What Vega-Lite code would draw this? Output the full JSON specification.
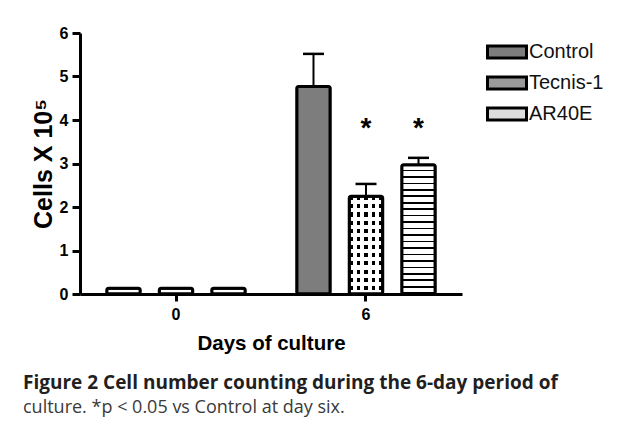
{
  "$schema": "https://vega.github.io/schema/vega-lite/v6.json",
  "autosize": {"type": "none"},
  "padding": {"left": 80, "top": 33, "right": 162, "bottom": 131},
  "width": 382,
  "height": 261,
  "background": "white",
  "title": {
    "text": "Figure 2 Cell number counting during the 6-day period of",
    "subtitle": "culture. *p < 0.05 vs Control at day six.",
    "orient": "bottom",
    "anchor": "start",
    "frame": "group",
    "dx": -57,
    "offset": 20,
    "font": "Open Sans",
    "fontSize": 19,
    "fontWeight": "bold",
    "color": "#231f20",
    "subtitleFont": "Open Sans",
    "subtitleFontSize": 18,
    "subtitleFontWeight": "normal",
    "subtitleColor": "#3a3a3a",
    "subtitlePadding": 6
  },
  "data": {
    "values": [
      {"day": "0", "group": "Control", "value": 0.13, "upper": null, "star": null},
      {"day": "0", "group": "Tecnis-1", "value": 0.13, "upper": null, "star": null},
      {"day": "0", "group": "AR40E", "value": 0.13, "upper": null, "star": null},
      {"day": "6", "group": "Control", "value": 4.77, "upper": 5.52, "star": null},
      {"day": "6", "group": "Tecnis-1", "value": 2.25, "upper": 2.53, "star": "*"},
      {"day": "6", "group": "AR40E", "value": 2.97, "upper": 3.13, "star": "*"}
    ]
  },
  "encoding": {
    "x": {
      "field": "day", "type": "nominal",
      "scale": {"paddingInner": 0.271, "paddingOuter": 0.1408},
      "axis": {"title": "Days of culture", "labelAngle": 0, "tickSize": 7, "labelPadding": 5, "titlePadding": 11, "titleFontSize": 20.5}
    },
    "xOffset": {
      "field": "group", "type": "nominal",
      "sort": ["Control", "Tecnis-1", "AR40E"],
      "scale": {"paddingInner": 0.362, "paddingOuter": 0}
    }
  },
  "layer": [
    {
      "mark": {"type": "bar", "cornerRadius": 2},
      "encoding": {
        "y": {
          "field": "value", "type": "quantitative",
          "scale": {"domain": [0, 6], "nice": false, "zero": true},
          "axis": {"title": "Cells X 10\u2075", "titleFontSize": 25, "values": [0, 1, 2, 3, 4, 5, 6], "tickSize": 8, "labelPadding": 4, "titlePadding": 3}
        },
        "fill": {
          "field": "group", "type": "nominal",
          "sort": ["Control", "Tecnis-1", "AR40E"],
          "scale": {"domain": ["Control", "Tecnis-1", "AR40E"], "range": ["#7d7d7d", "#9a9a9a", "#dddddd"]},
          "condition": {"test": "datum.day == '0'", "value": "white"},
          "legend": {
            "title": null,
            "encode": {
              "symbols": {
                "update": {
                  "fill": {"signal": "datum.value == 'Tecnis-1' ? {gradient: 'linear', x1: 0, y1: 0, x2: 1, y2: 0, stops: [{offset: 0, color: 'white'}, {offset: 0.125, color: 'white'}, {offset: 0.125, color: 'black'}, {offset: 0.25, color: 'black'}, {offset: 0.25, color: 'white'}, {offset: 0.375, color: 'white'}, {offset: 0.375, color: 'black'}, {offset: 0.5, color: 'black'}, {offset: 0.5, color: 'white'}, {offset: 0.625, color: 'white'}, {offset: 0.625, color: 'black'}, {offset: 0.75, color: 'black'}, {offset: 0.75, color: 'white'}, {offset: 0.875, color: 'white'}, {offset: 0.875, color: 'black'}, {offset: 1, color: 'black'}]} : datum.value == 'AR40E' ? {gradient: 'linear', x1: 0, y1: 0, x2: 0, y2: 1, stops: [{offset: 0, color: 'white'}, {offset: 0.2, color: 'white'}, {offset: 0.2, color: 'black'}, {offset: 0.4, color: 'black'}, {offset: 0.4, color: 'white'}, {offset: 0.6, color: 'white'}, {offset: 0.6, color: 'black'}, {offset: 0.8, color: 'black'}, {offset: 0.8, color: 'white'}, {offset: 1, color: 'white'}]} : '#7d7d7d'"},
                  "stroke": {"value": "black"},
                  "strokeWidth": {"value": 3},
                  "opacity": {"value": 1}
                }
              }
            }
          }
        }
      }
    },
    {
      "transform": [{"filter": "datum.group == 'Tecnis-1' && datum.day == '6'"}],
      "mark": {"type": "bar", "cornerRadius": 2, "fill": {"gradient": "linear", "x1": 0, "y1": 0, "x2": 0, "y2": 1, "stops": [
        {"offset": 0, "color": "black"}, {"offset": 0.0417, "color": "black"}, {"offset": 0.0417, "color": "white"}, {"offset": 0.0833, "color": "white"},
        {"offset": 0.0833, "color": "black"}, {"offset": 0.125, "color": "black"}, {"offset": 0.125, "color": "white"}, {"offset": 0.1667, "color": "white"},
        {"offset": 0.1667, "color": "black"}, {"offset": 0.2083, "color": "black"}, {"offset": 0.2083, "color": "white"}, {"offset": 0.25, "color": "white"},
        {"offset": 0.25, "color": "black"}, {"offset": 0.2917, "color": "black"}, {"offset": 0.2917, "color": "white"}, {"offset": 0.3333, "color": "white"},
        {"offset": 0.3333, "color": "black"}, {"offset": 0.375, "color": "black"}, {"offset": 0.375, "color": "white"}, {"offset": 0.4167, "color": "white"},
        {"offset": 0.4167, "color": "black"}, {"offset": 0.4583, "color": "black"}, {"offset": 0.4583, "color": "white"}, {"offset": 0.5, "color": "white"},
        {"offset": 0.5, "color": "black"}, {"offset": 0.5417, "color": "black"}, {"offset": 0.5417, "color": "white"}, {"offset": 0.5833, "color": "white"},
        {"offset": 0.5833, "color": "black"}, {"offset": 0.625, "color": "black"}, {"offset": 0.625, "color": "white"}, {"offset": 0.6667, "color": "white"},
        {"offset": 0.6667, "color": "black"}, {"offset": 0.7083, "color": "black"}, {"offset": 0.7083, "color": "white"}, {"offset": 0.75, "color": "white"},
        {"offset": 0.75, "color": "black"}, {"offset": 0.7917, "color": "black"}, {"offset": 0.7917, "color": "white"}, {"offset": 0.8333, "color": "white"},
        {"offset": 0.8333, "color": "black"}, {"offset": 0.875, "color": "black"}, {"offset": 0.875, "color": "white"}, {"offset": 0.9167, "color": "white"},
        {"offset": 0.9167, "color": "black"}, {"offset": 0.9583, "color": "black"}, {"offset": 0.9583, "color": "white"}, {"offset": 1, "color": "white"}
      ]}},
      "encoding": {"y": {"field": "value", "type": "quantitative"}}
    },
    {
      "transform": [{"filter": "datum.group == 'Tecnis-1' && datum.day == '6'"}],
      "mark": {"type": "bar", "cornerRadius": 2, "fill": {"gradient": "linear", "x1": 0, "y1": 0, "x2": 1, "y2": 0, "stops": [
        {"offset": 0, "color": "rgba(255,255,255,0)"}, {"offset": 0.1111, "color": "rgba(255,255,255,0)"}, {"offset": 0.1111, "color": "white"}, {"offset": 0.2222, "color": "white"},
        {"offset": 0.2222, "color": "rgba(255,255,255,0)"}, {"offset": 0.3333, "color": "rgba(255,255,255,0)"}, {"offset": 0.3333, "color": "white"}, {"offset": 0.4444, "color": "white"},
        {"offset": 0.4444, "color": "rgba(255,255,255,0)"}, {"offset": 0.5556, "color": "rgba(255,255,255,0)"}, {"offset": 0.5556, "color": "white"}, {"offset": 0.6667, "color": "white"},
        {"offset": 0.6667, "color": "rgba(255,255,255,0)"}, {"offset": 0.7778, "color": "rgba(255,255,255,0)"}, {"offset": 0.7778, "color": "white"}, {"offset": 0.8889, "color": "white"},
        {"offset": 0.8889, "color": "rgba(255,255,255,0)"}, {"offset": 1, "color": "rgba(255,255,255,0)"}
      ]}},
      "encoding": {"y": {"field": "value", "type": "quantitative"}}
    },
    {
      "transform": [{"filter": "datum.group == 'AR40E' && datum.day == '6'"}],
      "mark": {"type": "bar", "cornerRadius": 2, "fill": {"gradient": "linear", "x1": 0, "y1": 0, "x2": 0, "y2": 1, "stops": [
        {"offset": 0, "color": "white"}, {"offset": 0.0375, "color": "white"}, {"offset": 0.0375, "color": "black"}, {"offset": 0.05, "color": "black"},
        {"offset": 0.05, "color": "white"}, {"offset": 0.0875, "color": "white"}, {"offset": 0.0875, "color": "black"}, {"offset": 0.1, "color": "black"},
        {"offset": 0.1, "color": "white"}, {"offset": 0.1375, "color": "white"}, {"offset": 0.1375, "color": "black"}, {"offset": 0.15, "color": "black"},
        {"offset": 0.15, "color": "white"}, {"offset": 0.1875, "color": "white"}, {"offset": 0.1875, "color": "black"}, {"offset": 0.2, "color": "black"},
        {"offset": 0.2, "color": "white"}, {"offset": 0.2375, "color": "white"}, {"offset": 0.2375, "color": "black"}, {"offset": 0.25, "color": "black"},
        {"offset": 0.25, "color": "white"}, {"offset": 0.2875, "color": "white"}, {"offset": 0.2875, "color": "black"}, {"offset": 0.3, "color": "black"},
        {"offset": 0.3, "color": "white"}, {"offset": 0.3375, "color": "white"}, {"offset": 0.3375, "color": "black"}, {"offset": 0.35, "color": "black"},
        {"offset": 0.35, "color": "white"}, {"offset": 0.3875, "color": "white"}, {"offset": 0.3875, "color": "black"}, {"offset": 0.4, "color": "black"},
        {"offset": 0.4, "color": "white"}, {"offset": 0.4375, "color": "white"}, {"offset": 0.4375, "color": "black"}, {"offset": 0.45, "color": "black"},
        {"offset": 0.45, "color": "white"}, {"offset": 0.4875, "color": "white"}, {"offset": 0.4875, "color": "black"}, {"offset": 0.5, "color": "black"},
        {"offset": 0.5, "color": "white"}, {"offset": 0.5375, "color": "white"}, {"offset": 0.5375, "color": "black"}, {"offset": 0.55, "color": "black"},
        {"offset": 0.55, "color": "white"}, {"offset": 0.5875, "color": "white"}, {"offset": 0.5875, "color": "black"}, {"offset": 0.6, "color": "black"},
        {"offset": 0.6, "color": "white"}, {"offset": 0.6375, "color": "white"}, {"offset": 0.6375, "color": "black"}, {"offset": 0.65, "color": "black"},
        {"offset": 0.65, "color": "white"}, {"offset": 0.6875, "color": "white"}, {"offset": 0.6875, "color": "black"}, {"offset": 0.7, "color": "black"},
        {"offset": 0.7, "color": "white"}, {"offset": 0.7375, "color": "white"}, {"offset": 0.7375, "color": "black"}, {"offset": 0.75, "color": "black"},
        {"offset": 0.75, "color": "white"}, {"offset": 0.7875, "color": "white"}, {"offset": 0.7875, "color": "black"}, {"offset": 0.8, "color": "black"},
        {"offset": 0.8, "color": "white"}, {"offset": 0.8375, "color": "white"}, {"offset": 0.8375, "color": "black"}, {"offset": 0.85, "color": "black"},
        {"offset": 0.85, "color": "white"}, {"offset": 0.8875, "color": "white"}, {"offset": 0.8875, "color": "black"}, {"offset": 0.9, "color": "black"},
        {"offset": 0.9, "color": "white"}, {"offset": 0.9375, "color": "white"}, {"offset": 0.9375, "color": "black"}, {"offset": 0.95, "color": "black"},
        {"offset": 0.95, "color": "white"}, {"offset": 0.9875, "color": "white"}, {"offset": 0.9875, "color": "black"}, {"offset": 1, "color": "black"}
      ]}},
      "encoding": {"y": {"field": "value", "type": "quantitative"}}
    },
    {
      "mark": {"type": "bar", "cornerRadius": 2, "fill": "white", "fillOpacity": 0, "stroke": "black", "strokeWidth": 3},
      "encoding": {"y": {"field": "value", "type": "quantitative"}}
    },
    {
      "transform": [{"filter": "datum.upper != null"}],
      "mark": {"type": "rule", "color": "black", "strokeWidth": 2},
      "encoding": {
        "y": {"field": "value", "type": "quantitative"},
        "y2": {"field": "upper"}
      }
    },
    {
      "transform": [{"filter": "datum.upper != null"}],
      "mark": {"type": "tick", "color": "black", "size": 21, "thickness": 2.5, "opacity": 1},
      "encoding": {
        "y": {"field": "upper", "type": "quantitative"}
      }
    },
    {
      "transform": [{"filter": "datum.star != null"}],
      "mark": {"type": "text", "font": "Liberation Sans", "fontWeight": "bold", "fontSize": 28, "baseline": "alphabetic", "align": "center", "color": "black"},
      "encoding": {
        "y": {"datum": 3.61, "type": "quantitative"},
        "text": {"field": "star"}
      }
    }
  ],
  "config": {
    "font": "Liberation Sans",
    "view": {"stroke": null},
    "axis": {
      "grid": false,
      "domainColor": "black",
      "domainWidth": 3,
      "tickColor": "black",
      "tickWidth": 3,
      "labelFont": "Liberation Sans",
      "labelFontWeight": "bold",
      "labelFontSize": 16,
      "labelColor": "black",
      "titleFont": "Liberation Sans",
      "titleFontWeight": "bold",
      "titleFontSize": 19,
      "titleColor": "black"
    },
    "legend": {
      "orient": "none",
      "legendX": 417,
      "legendY": 9,
      "padding": 0,
      "symbolType": "M-2.6,-0.8H2.6V0.8H-2.6Z",
      "symbolSize": 225,
      "symbolStrokeColor": "black",
      "symbolStrokeWidth": 3,
      "symbolOpacity": 1,
      "labelFont": "Liberation Sans",
      "labelFontSize": 20,
      "labelColor": "#111111",
      "labelOffset": 12,
      "rowPadding": 7
    }
  }
}
